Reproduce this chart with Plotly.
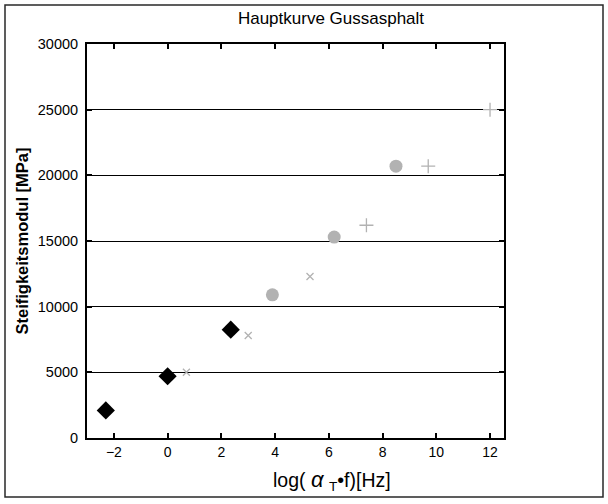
import plotly.graph_objects as go

# data
diamond_x = [-2.3, 0.0, 2.35]
diamond_y = [2100, 4700, 8250]
xmark_x = [0.7, 3.0, 5.3]
xmark_y = [5000, 7800, 12300]
circle_x = [3.9, 6.2, 8.5]
circle_y = [10900, 15300, 20700]
plus_x = [7.4, 9.7, 12.0]
plus_y = [16200, 20700, 25000]

x_ticks = [-2, 0, 2, 4, 6, 8, 10, 12]
y_ticks = [0, 5000, 10000, 15000, 20000, 25000, 30000]
y_tick_text = ["0", "5000", "10000", "15000", "20000", "25000", "30000"]

W, H = 608, 504
L, R, T, B = 87, 104, 44, 66
pw, ph = W - L - R, H - T - B

grey = "rgb(178,178,178)"
fig = go.Figure()
fig.add_trace(go.Scatter(x=diamond_x, y=diamond_y, mode="markers",
                         marker=dict(symbol="diamond", size=14, color="black")))
fig.add_trace(go.Scatter(x=xmark_x, y=xmark_y, mode="markers",
                         marker=dict(symbol="x-thin", size=7, color=grey,
                                     line=dict(width=1.3, color=grey))))
fig.add_trace(go.Scatter(x=circle_x, y=circle_y, mode="markers",
                         marker=dict(symbol="circle", size=13, color=grey)))
fig.add_trace(go.Scatter(x=plus_x, y=plus_y, mode="markers",
                         marker=dict(symbol="cross-thin", size=10, color=grey,
                                     line=dict(width=1.3, color=grey))))

def px2paper_x(p):
    return (p - L) / pw

def px2paper_y(p):
    return (H - B - p) / ph

fig.add_shape(type="rect", xref="paper", yref="paper",
              x0=px2paper_x(5), x1=px2paper_x(603),
              y0=px2paper_y(497), y1=px2paper_y(5),
              line=dict(color="rgb(40,40,40)", width=1.5), layer="below")

fig.add_annotation(text="log( <i><span style='font-size:22px'>α</span></i> <sub>T</sub>•f)[Hz]",
                   xref="paper", yref="paper", x=px2paper_x(332), y=px2paper_y(480),
                   xanchor="center", yanchor="middle", showarrow=False,
                   font=dict(size=19.5, color="black"))

fig.update_layout(
    width=W, height=H,
    margin=dict(l=L, r=R, t=T, b=B),
    paper_bgcolor="white", plot_bgcolor="white",
    showlegend=False,
    font=dict(family="Liberation Sans, Arial, sans-serif", color="black", size=14),
    title=dict(text="Hauptkurve Gussasphalt", x=331 / W, xanchor="center",
               xref="container", y=1 - 18 / H, yanchor="middle",
               font=dict(size=17, color="black")),
)
fig.update_xaxes(range=[-3, 12.52], tickvals=x_ticks, ticks="inside", ticklen=5,
                 tickwidth=1.5, tickcolor="black", showline=True, linecolor="black",
                 linewidth=2, mirror="ticks", showgrid=False, zeroline=False,
                 tickfont=dict(size=14))
fig.update_yaxes(range=[0, 30000], tickvals=y_ticks, ticktext=y_tick_text,
                 ticks="inside", ticklen=5, ticklabelstandoff=4,
                 tickwidth=1.5, tickcolor="black", showline=True, linecolor="black",
                 linewidth=2, mirror="ticks", showgrid=True, gridcolor="black",
                 gridwidth=1, zeroline=False, tickfont=dict(size=14.5),
                 title=dict(text="<b>Steifigkeitsmodul [MPa]</b>",
                            font=dict(size=16.5), standoff=5))

fig.write_html("out.html", config={"displayModeBar": False},
               post_script="document.body.style.margin='0px';")
